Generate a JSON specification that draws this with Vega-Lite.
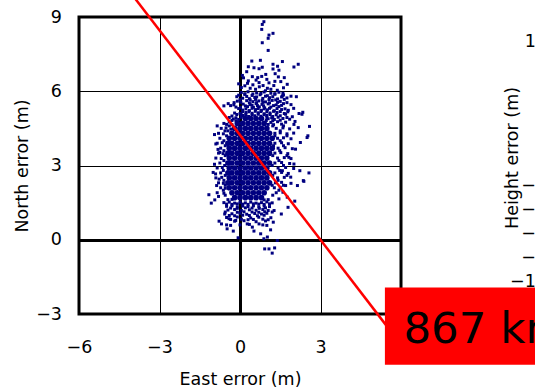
{
"$schema": "https://vega.github.io/schema/vega-lite/v6.json",
"autosize": {"type": "none"},
"padding": {"left": 79, "top": 17, "right": 456, "bottom": 372},
"bounds": "flush",
"spacing": 163,
"datasets": {
"core": [
{"e":-0.2,"n":1.7},{"e":0.0,"n":1.7},{"e":0.2,"n":1.7},{"e":0.4,"n":1.7},{"e":0.6,"n":1.7},{"e":0.8,"n":1.7},
{"e":-0.3,"n":1.9},{"e":-0.1,"n":1.9},{"e":0.1,"n":1.9},{"e":0.3,"n":1.9},{"e":0.5,"n":1.9},{"e":0.7,"n":1.9},{"e":0.9,"n":1.9},
{"e":-0.4,"n":2.1},{"e":-0.2,"n":2.1},{"e":0.0,"n":2.1},{"e":0.2,"n":2.1},{"e":0.4,"n":2.1},{"e":0.6,"n":2.1},{"e":0.8,"n":2.1},{"e":1.0,"n":2.1},
{"e":-0.45,"n":2.3},{"e":-0.3,"n":2.3},{"e":-0.1,"n":2.3},{"e":0.1,"n":2.3},{"e":0.3,"n":2.3},{"e":0.5,"n":2.3},{"e":0.7,"n":2.3},{"e":0.9,"n":2.3},{"e":1.1,"n":2.3},
{"e":-0.4,"n":2.5},{"e":-0.2,"n":2.5},{"e":0.0,"n":2.5},{"e":0.2,"n":2.5},{"e":0.4,"n":2.5},{"e":0.6,"n":2.5},{"e":0.8,"n":2.5},{"e":1.0,"n":2.5},
{"e":-0.45,"n":2.7},{"e":-0.3,"n":2.7},{"e":-0.1,"n":2.7},{"e":0.1,"n":2.7},{"e":0.3,"n":2.7},{"e":0.5,"n":2.7},{"e":0.7,"n":2.7},{"e":0.9,"n":2.7},{"e":1.1,"n":2.7},
{"e":-0.4,"n":2.9},{"e":-0.2,"n":2.9},{"e":0.0,"n":2.9},{"e":0.2,"n":2.9},{"e":0.4,"n":2.9},{"e":0.6,"n":2.9},{"e":0.8,"n":2.9},{"e":1.0,"n":2.9},
{"e":-0.45,"n":3.1},{"e":-0.3,"n":3.1},{"e":-0.1,"n":3.1},{"e":0.1,"n":3.1},{"e":0.3,"n":3.1},{"e":0.5,"n":3.1},{"e":0.7,"n":3.1},{"e":0.9,"n":3.1},{"e":1.1,"n":3.1},
{"e":-0.4,"n":3.3},{"e":-0.2,"n":3.3},{"e":0.0,"n":3.3},{"e":0.2,"n":3.3},{"e":0.4,"n":3.3},{"e":0.6,"n":3.3},{"e":0.8,"n":3.3},{"e":1.0,"n":3.3},
{"e":-0.45,"n":3.5},{"e":-0.3,"n":3.5},{"e":-0.1,"n":3.5},{"e":0.1,"n":3.5},{"e":0.3,"n":3.5},{"e":0.5,"n":3.5},{"e":0.7,"n":3.5},{"e":0.9,"n":3.5},{"e":1.1,"n":3.5},
{"e":-0.4,"n":3.7},{"e":-0.2,"n":3.7},{"e":0.0,"n":3.7},{"e":0.2,"n":3.7},{"e":0.4,"n":3.7},{"e":0.6,"n":3.7},{"e":0.8,"n":3.7},{"e":1.0,"n":3.7},{"e":1.2,"n":3.7},
{"e":-0.45,"n":3.9},{"e":-0.3,"n":3.9},{"e":-0.1,"n":3.9},{"e":0.1,"n":3.9},{"e":0.3,"n":3.9},{"e":0.5,"n":3.9},{"e":0.7,"n":3.9},{"e":0.9,"n":3.9},{"e":1.1,"n":3.9},
{"e":-0.4,"n":4.1},{"e":-0.2,"n":4.1},{"e":0.0,"n":4.1},{"e":0.2,"n":4.1},{"e":0.4,"n":4.1},{"e":0.6,"n":4.1},{"e":0.8,"n":4.1},{"e":1.0,"n":4.1},{"e":1.2,"n":4.1},
{"e":-0.3,"n":4.3},{"e":-0.1,"n":4.3},{"e":0.1,"n":4.3},{"e":0.3,"n":4.3},{"e":0.5,"n":4.3},{"e":0.7,"n":4.3},{"e":0.9,"n":4.3},{"e":1.1,"n":4.3},
{"e":-0.2,"n":4.5},{"e":0.0,"n":4.5},{"e":0.2,"n":4.5},{"e":0.4,"n":4.5},{"e":0.6,"n":4.5},{"e":0.8,"n":4.5},{"e":1.0,"n":4.5},
{"e":-0.1,"n":4.7},{"e":0.1,"n":4.7},{"e":0.3,"n":4.7},{"e":0.5,"n":4.7},{"e":0.7,"n":4.7},{"e":0.9,"n":4.7},
{"e":0.2,"n":4.9},{"e":0.4,"n":4.9},{"e":0.6,"n":4.9},{"e":0.8,"n":4.9}
],
"pts": [
{"e":0.89,"n":8.81},{"e":0.83,"n":8.7},{"e":0.81,"n":8.5},{"e":1.23,"n":8.34},{"e":1.08,"n":8.27},{"e":1.05,"n":8.14},{"e":0.83,"n":7.96},{"e":1.05,"n":7.65},
{"e":0.44,"n":7.22},{"e":0.76,"n":7.25},{"e":1.58,"n":7.2},{"e":2.17,"n":7.09},{"e":2.01,"n":6.98},{"e":0.31,"n":6.99},{"e":0.52,"n":6.95},{"e":0.71,"n":6.91},{"e":0.83,"n":6.97},{"e":1.23,"n":7.09},{"e":1.4,"n":7.01},{"e":1.45,"n":6.85},{"e":1.23,"n":6.9},{"e":0.09,"n":6.64},{"e":0.25,"n":6.79},{"e":0.46,"n":6.59},{"e":0.66,"n":6.55},{"e":0.81,"n":6.6},{"e":0.96,"n":6.68},{"e":1.31,"n":6.71},{"e":1.43,"n":6.58},{"e":1.65,"n":6.55},{"e":1.76,"n":6.28},{"e":0.31,"n":6.42},{"e":0.48,"n":6.26},{"e":0.71,"n":6.35},{"e":0.86,"n":6.23},{"e":1.08,"n":6.34},{"e":1.26,"n":6.23},{"e":1.52,"n":6.39},{"e":0.18,"n":6.22},{"e":0.58,"n":6.08},{"e":1.02,"n":6.12},{"e":1.39,"n":6.04},{"e":2.1,"n":5.78},{"e":1.58,"n":5.81},{"e":2.2,"n":5.1},{"e":2.34,"n":5.15},{"e":2.01,"n":4.66},{"e":2.17,"n":4.53},{"e":-0.6,"n":5.41},{"e":-0.44,"n":5.5},{"e":-0.23,"n":5.45},{"e":-0.85,"n":4.6},{"e":-0.56,"n":4.4},{"e":-0.34,"n":4.47},{"e":0.13,"n":6.54},
{"e":0.05,"n":6.15},{"e":0.38,"n":6.12},{"e":0.72,"n":6.18},{"e":0.95,"n":6.02},{"e":1.15,"n":6.08},{"e":1.62,"n":6.14},{"e":0.28,"n":6.32},{"e":0.6,"n":6.45},{"e":1.0,"n":6.48},{"e":1.3,"n":6.4},{"e":-0.05,"n":6.3},
{"e":0.05,"n":5.95},{"e":0.3,"n":5.98},{"e":0.62,"n":5.93},{"e":0.9,"n":5.97},{"e":1.15,"n":5.92},{"e":1.45,"n":5.96},
{"e":0.18,"n":5.9},{"e":0.48,"n":5.89},{"e":0.78,"n":5.91},{"e":1.3,"n":5.9},{"e":1.6,"n":5.92},
{"e":-0.05,"n":5.84},{"e":0.18,"n":5.87},{"e":0.45,"n":5.83},{"e":0.75,"n":5.86},{"e":1.02,"n":5.82},{"e":1.3,"n":5.88},{"e":1.62,"n":5.85},
{"e":-0.12,"n":5.78},{"e":0.25,"n":5.79},{"e":0.62,"n":5.77},{"e":0.95,"n":5.8},{"e":1.22,"n":5.78},{"e":1.55,"n":5.77},{"e":1.9,"n":5.8},
{"e":0.1,"n":5.72},{"e":0.35,"n":5.7},{"e":0.55,"n":5.75},{"e":0.85,"n":5.71},{"e":1.1,"n":5.74},{"e":1.4,"n":5.69},{"e":1.75,"n":5.73},
{"e":0.0,"n":5.66},{"e":0.38,"n":5.65},{"e":0.58,"n":5.67},{"e":0.83,"n":5.64},{"e":1.08,"n":5.66},{"e":1.33,"n":5.65},{"e":1.65,"n":5.67},
{"e":-0.1,"n":5.6},{"e":0.25,"n":5.62},{"e":0.48,"n":5.58},{"e":0.7,"n":5.61},{"e":0.95,"n":5.57},{"e":1.2,"n":5.63},{"e":1.5,"n":5.59},
{"e":-0.22,"n":5.54},{"e":0.03,"n":5.55},{"e":0.35,"n":5.53},{"e":0.62,"n":5.54},{"e":0.85,"n":5.55},{"e":1.1,"n":5.53},{"e":1.4,"n":5.55},{"e":1.75,"n":5.54},
{"e":0.12,"n":5.48},{"e":0.38,"n":5.46},{"e":0.6,"n":5.5},{"e":0.82,"n":5.47},{"e":1.05,"n":5.49},{"e":1.35,"n":5.45},{"e":1.62,"n":5.5},{"e":1.9,"n":5.46},
{"e":-0.35,"n":5.42},{"e":0.2,"n":5.41},{"e":0.45,"n":5.43},{"e":0.65,"n":5.42},{"e":0.88,"n":5.41},{"e":1.25,"n":5.42},{"e":1.55,"n":5.43},
{"e":-0.15,"n":5.36},{"e":0.02,"n":5.34},{"e":0.28,"n":5.38},{"e":0.5,"n":5.35},{"e":0.72,"n":5.37},{"e":0.92,"n":5.33},{"e":1.15,"n":5.36},{"e":1.45,"n":5.38},
{"e":-0.05,"n":5.3},{"e":0.22,"n":5.29},{"e":0.45,"n":5.31},{"e":0.68,"n":5.3},{"e":0.9,"n":5.29},{"e":1.1,"n":5.31},{"e":1.38,"n":5.3},{"e":1.68,"n":5.29},{"e":2.0,"n":5.31},
{"e":0.1,"n":5.24},{"e":0.35,"n":5.22},{"e":0.58,"n":5.26},{"e":0.8,"n":5.23},{"e":1.02,"n":5.25},{"e":1.28,"n":5.21},{"e":1.55,"n":5.26},{"e":1.8,"n":5.23},
{"e":0.1,"n":5.18},{"e":0.33,"n":5.17},{"e":0.57,"n":5.19},{"e":0.78,"n":5.18},{"e":1.0,"n":5.17},{"e":1.25,"n":5.19},{"e":1.5,"n":5.18},{"e":1.78,"n":5.17},
{"e":-0.2,"n":5.12},{"e":0.0,"n":5.1},{"e":0.22,"n":5.14},{"e":0.45,"n":5.11},{"e":0.68,"n":5.13},{"e":0.9,"n":5.09},{"e":1.12,"n":5.12},{"e":1.38,"n":5.14},{"e":1.65,"n":5.1},
{"e":-0.12,"n":5.06},{"e":0.05,"n":5.05},{"e":0.22,"n":5.06},{"e":0.45,"n":5.05},{"e":0.68,"n":5.07},{"e":0.9,"n":5.05},{"e":1.12,"n":5.06},{"e":1.35,"n":5.05},{"e":1.7,"n":5.07},
{"e":-0.3,"n":5.0},{"e":0.12,"n":5.02},{"e":0.32,"n":4.98},{"e":0.55,"n":5.01},{"e":0.78,"n":4.99},{"e":1.0,"n":5.02},{"e":1.22,"n":4.98},{"e":1.5,"n":5.01},{"e":1.95,"n":4.97},
{"e":-0.4,"n":4.94},{"e":-0.15,"n":4.93},{"e":0.05,"n":4.95},{"e":1.0,"n":4.94},{"e":1.18,"n":4.93},{"e":1.42,"n":4.95},{"e":1.75,"n":4.94},
{"e":-0.25,"n":4.88},{"e":-0.05,"n":4.86},{"e":1.05,"n":4.89},{"e":1.28,"n":4.86},{"e":1.6,"n":4.9},{"e":1.85,"n":4.87},
{"e":-0.3,"n":4.82},{"e":-0.15,"n":4.81},{"e":0.98,"n":4.82},{"e":1.22,"n":4.81},{"e":1.5,"n":4.83},
{"e":-0.4,"n":4.76},{"e":1.15,"n":4.74},{"e":1.4,"n":4.77},{"e":1.7,"n":4.75},{"e":2.05,"n":4.78},
{"e":-0.5,"n":4.66},{"e":-0.3,"n":4.65},{"e":1.05,"n":4.66},{"e":1.25,"n":4.65},{"e":1.55,"n":4.67},
{"e":1.35,"n":4.5},{"e":1.6,"n":4.52},{"e":1.85,"n":4.48},
{"e":1.3,"n":4.3},{"e":1.5,"n":4.32},{"e":1.75,"n":4.28},{"e":2.0,"n":4.31},
{"e":1.4,"n":4.1},{"e":1.62,"n":4.12},{"e":1.9,"n":4.08},
{"e":1.3,"n":3.9},{"e":1.55,"n":3.92},{"e":1.8,"n":3.88},
{"e":1.42,"n":3.7},{"e":1.68,"n":3.72},{"e":1.95,"n":3.68},
{"e":1.3,"n":3.5},{"e":1.52,"n":3.52},{"e":1.78,"n":3.48},
{"e":1.4,"n":3.3},{"e":1.65,"n":3.32},{"e":1.9,"n":3.28},
{"e":1.3,"n":3.1},{"e":1.55,"n":3.12},{"e":1.85,"n":3.08},
{"e":1.42,"n":2.9},{"e":1.7,"n":2.92},{"e":2.0,"n":2.88},
{"e":1.3,"n":2.7},{"e":1.55,"n":2.72},{"e":1.8,"n":2.68},
{"e":1.4,"n":2.5},{"e":1.65,"n":2.52},
{"e":1.32,"n":2.3},{"e":1.55,"n":2.32},{"e":1.9,"n":2.28},
{"e":1.28,"n":2.1},{"e":1.5,"n":2.12},
{"e":1.35,"n":1.9},{"e":1.6,"n":1.92},
{"e":1.22,"n":1.8},{"e":1.45,"n":2.0},{"e":1.2,"n":2.2},{"e":1.42,"n":2.4},{"e":1.22,"n":2.6},{"e":1.48,"n":2.8},{"e":1.2,"n":3.0},{"e":1.45,"n":3.2},{"e":1.22,"n":3.4},{"e":1.48,"n":3.6},{"e":1.25,"n":3.8},{"e":1.5,"n":4.0},{"e":1.3,"n":4.2},{"e":1.5,"n":4.4},{"e":1.22,"n":4.6},
{"e":1.62,"n":2.2},{"e":1.75,"n":2.6},{"e":1.62,"n":3.0},{"e":1.75,"n":3.4},{"e":1.62,"n":3.8},{"e":1.75,"n":4.2},{"e":1.62,"n":4.6},
{"e":2.5,"n":4.13},{"e":2.57,"n":2.7},{"e":2.36,"n":2.39},{"e":2.59,"n":4.58},{"e":2.53,"n":4.2},{"e":2.31,"n":5.07},{"e":2.14,"n":2.19},{"e":2.38,"n":2.36},{"e":1.7,"n":2.19},{"e":1.45,"n":1.65},{"e":1.27,"n":1.18},{"e":1.76,"n":1.72},{"e":1.89,"n":2.53},{"e":2.01,"n":3.06},{"e":1.58,"n":2.79},{"e":1.82,"n":3.33},{"e":2.07,"n":3.66},{"e":2.25,"n":3.93},{"e":2.23,"n":2.79},{"e":1.54,"n":1.04},{"e":1.79,"n":1.31},{"e":2.04,"n":1.56},
{"e":-0.6,"n":4.7},{"e":-0.7,"n":4.5},{"e":-0.52,"n":4.52},{"e":-0.8,"n":4.3},{"e":-0.62,"n":4.28},{"e":-0.75,"n":4.1},{"e":-0.85,"n":3.9},{"e":-0.66,"n":3.92},{"e":-0.72,"n":3.7},{"e":-0.8,"n":3.5},{"e":-0.63,"n":3.48},{"e":-0.9,"n":3.3},{"e":-0.7,"n":3.28},{"e":-0.75,"n":3.1},{"e":-0.85,"n":2.9},{"e":-0.66,"n":2.92},{"e":-0.72,"n":2.7},{"e":-0.9,"n":2.5},{"e":-0.68,"n":2.52},{"e":-0.8,"n":2.3},{"e":-0.62,"n":2.28},{"e":-0.72,"n":2.1},{"e":-0.55,"n":2.08},{"e":-0.85,"n":1.9},{"e":-0.6,"n":1.88},
{"e":-0.55,"n":1.8},{"e":-0.62,"n":2.0},{"e":-0.55,"n":2.2},{"e":-0.6,"n":2.4},{"e":-0.55,"n":2.6},{"e":-0.62,"n":2.8},{"e":-0.57,"n":3.0},{"e":-0.6,"n":3.2},{"e":-0.55,"n":3.4},{"e":-0.6,"n":3.6},{"e":-0.55,"n":3.8},{"e":-0.6,"n":4.0},{"e":-0.5,"n":4.2},{"e":-0.45,"n":4.4},{"e":-0.4,"n":4.6},
{"e":-0.8,"n":1.75},{"e":-0.78,"n":2.45},{"e":-0.95,"n":3.05},{"e":-0.82,"n":3.65},{"e":-0.95,"n":4.25},
{"e":-0.75,"n":3.53},{"e":-0.91,"n":2.66},{"e":-1.16,"n":1.82},{"e":-1.07,"n":1.48},{"e":-0.94,"n":1.61},{"e":-0.87,"n":2.19},{"e":-0.9,"n":3.87},{"e":-1.0,"n":2.72},
{"e":-0.45,"n":1.62},{"e":-0.3,"n":1.63},{"e":0.9,"n":1.61},{"e":1.05,"n":1.62},
{"e":-0.6,"n":1.5},{"e":-0.4,"n":1.52},{"e":-0.2,"n":1.48},{"e":0.0,"n":1.51},{"e":0.2,"n":1.49},{"e":0.4,"n":1.52},{"e":0.6,"n":1.48},{"e":0.8,"n":1.5},{"e":1.0,"n":1.53},{"e":1.2,"n":1.49},
{"e":-0.5,"n":1.44},{"e":-0.3,"n":1.43},{"e":-0.1,"n":1.45},{"e":0.1,"n":1.44},{"e":0.3,"n":1.43},{"e":0.5,"n":1.45},{"e":0.7,"n":1.44},{"e":0.9,"n":1.43},{"e":1.1,"n":1.45},
{"e":-0.5,"n":1.35},{"e":-0.3,"n":1.37},{"e":-0.1,"n":1.33},{"e":0.1,"n":1.36},{"e":0.3,"n":1.34},{"e":0.5,"n":1.37},{"e":0.7,"n":1.33},{"e":0.9,"n":1.36},{"e":1.1,"n":1.34},
{"e":-0.35,"n":1.28},{"e":-0.1,"n":1.27},{"e":0.2,"n":1.29},{"e":0.45,"n":1.28},{"e":0.72,"n":1.27},{"e":0.95,"n":1.29},
{"e":-0.45,"n":1.2},{"e":-0.2,"n":1.22},{"e":0.05,"n":1.18},{"e":0.35,"n":1.21},{"e":0.6,"n":1.19},{"e":0.85,"n":1.22},{"e":1.05,"n":1.18},
{"e":-0.55,"n":1.12},{"e":-0.1,"n":1.11},{"e":0.15,"n":1.13},{"e":0.45,"n":1.12},{"e":0.7,"n":1.11},{"e":0.92,"n":1.13},{"e":1.2,"n":1.12},
{"e":-0.3,"n":1.05},{"e":0.0,"n":1.07},{"e":0.25,"n":1.03},{"e":0.55,"n":1.06},{"e":0.8,"n":1.04},{"e":1.0,"n":1.07},
{"e":-0.4,"n":0.98},{"e":-0.2,"n":0.97},{"e":0.1,"n":0.99},{"e":0.35,"n":0.98},{"e":0.65,"n":0.97},{"e":0.9,"n":0.99},
{"e":-0.5,"n":0.9},{"e":-0.1,"n":0.92},{"e":0.4,"n":0.88},{"e":0.7,"n":0.91},{"e":1.15,"n":0.89},
{"e":-0.35,"n":0.82},{"e":0.05,"n":0.83},{"e":0.3,"n":0.81},{"e":0.5,"n":0.82},{"e":0.85,"n":0.83},{"e":1.05,"n":0.81},
{"e":-0.2,"n":0.75},{"e":0.15,"n":0.77},{"e":0.6,"n":0.73},{"e":0.95,"n":0.76},
{"e":-0.5,"n":0.6},{"e":0.0,"n":0.6},{"e":0.35,"n":0.62},{"e":0.85,"n":0.6},{"e":1.0,"n":0.58},
{"e":-0.78,"n":0.75},{"e":-0.69,"n":0.64},{"e":-0.57,"n":1.04},{"e":-0.41,"n":0.85},{"e":-0.35,"n":0.58},{"e":-0.25,"n":0.35},{"e":-0.16,"n":0.78},{"e":-0.07,"n":0.08},{"e":0.27,"n":0.64},{"e":0.46,"n":0.51},{"e":0.52,"n":0.35},{"e":0.71,"n":0.64},{"e":0.77,"n":0.24},{"e":0.89,"n":0.04},{"e":1.02,"n":0.11},{"e":0.92,"n":-0.37},{"e":1.08,"n":-0.37},{"e":1.2,"n":-0.54},{"e":1.29,"n":-0.33},{"e":1.39,"n":-0.03},{"e":1.14,"n":0.4},{"e":1.24,"n":0.71},{"e":-0.48,"n":0.44}
],
"line": [{"e":-4.6,"n":10.72},{"e":5.5,"n":-3.53}],
"box": [{"e":5.4,"e2":12,"n":-1.93,"n2":-5.05}],
"label": [{"e":6.09,"n":-4.17,"t":"867 km"}],
"height": [{"h":0}]
},
"hconcat": [
{
"width": 322,
"height": 297,
"layer": [
{
"data": {"name": "core"},
"mark": {"type": "point", "shape": "circle", "filled": true, "size": 32, "color": "#000080", "opacity": 1},
"encoding": {
"x": {"field": "e", "type": "quantitative", "title": "East error (m)",
"scale": {"domain": [-6, 6], "nice": false, "zero": false},
"axis": {"values": [-6, -3, 0, 3], "labelPadding": 24, "titleY": 70.7, "titleBaseline": "alphabetic",
"gridWidth": {"condition": {"test": "datum.value === 0", "value": 3}, "value": 1}}},
"y": {"field": "n", "type": "quantitative", "title": "North error (m)",
"scale": {"domain": [-3, 9], "nice": false, "zero": false},
"axis": {"values": [-3, 0, 3, 6, 9], "labelPadding": 17.5, "titleX": -52, "titleBaseline": "alphabetic",
"gridWidth": {"condition": {"test": "datum.value === 0", "value": 3}, "value": 1}}}
}
},
{
"data": {"name": "pts"},
"mark": {"type": "point", "shape": "square", "filled": true, "size": 9, "color": "#000080", "opacity": 1},
"encoding": {
"x": {"field": "e", "type": "quantitative", "title": "East error (m)"},
"y": {"field": "n", "type": "quantitative", "title": "North error (m)"}
}
},
{
"data": {"name": "line"},
"mark": {"type": "line", "color": "#ff0000", "strokeWidth": 2.5, "clip": false},
"encoding": {
"x": {"field": "e", "type": "quantitative", "title": "East error (m)"},
"y": {"field": "n", "type": "quantitative", "title": "North error (m)"}
}
},
{
"data": {"name": "box"},
"mark": {"type": "rect", "color": "#ff0000", "opacity": 1, "clip": false},
"encoding": {
"x": {"field": "e", "type": "quantitative", "title": "East error (m)"},
"x2": {"field": "e2"},
"y": {"field": "n", "type": "quantitative", "title": "North error (m)"},
"y2": {"field": "n2"}
}
},
{
"data": {"name": "label"},
"mark": {"type": "text", "align": "left", "baseline": "alphabetic", "font": "DejaVu Sans", "fontSize": 43.5, "color": "#000000", "clip": false},
"encoding": {
"x": {"field": "e", "type": "quantitative", "title": "East error (m)"},
"y": {"field": "n", "type": "quantitative", "title": "North error (m)"},
"text": {"field": "t"}
}
}
]
},
{
"width": 322,
"height": 288,
"data": {"name": "height"},
"mark": {"type": "rule", "color": "#000000"},
"encoding": {
"y": {"field": "h", "type": "quantitative", "title": "Height error (m)",
"scale": {"domain": [-12, 12], "nice": false, "zero": false},
"axis": {"values": [-10, -8, -6, -4, -2, 0, 2, 4, 6, 8, 10], "labelPadding": 17.5, "titleX": -47, "titleY": 140.5, "titleBaseline": "alphabetic", "grid": false}}
}
}
],
"config": {
"font": "DejaVu Sans",
"view": {"stroke": "#000000", "strokeWidth": 3},
"axis": {
"labelFont": "DejaVu Sans", "labelFontSize": 17.5, "labelColor": "#000000",
"titleFont": "DejaVu Sans", "titleFontSize": 17.5, "titleFontWeight": "normal", "titleColor": "#000000",
"ticks": false, "tickSize": 0, "domain": false, "labelFlush": false, "labelOverlap": false,
"gridColor": "#000000", "gridOpacity": 1
}
}
}
